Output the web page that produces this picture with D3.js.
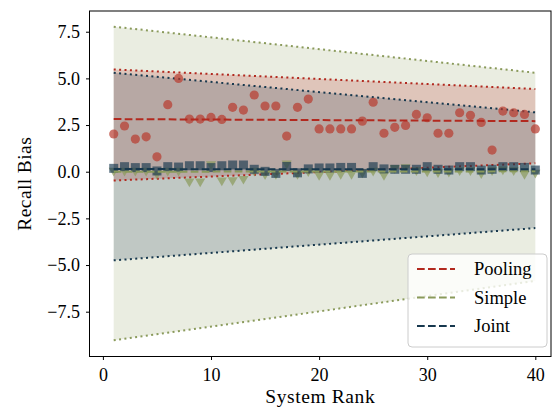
<!DOCTYPE html>
<html>
<head>
<meta charset="utf-8">
<script src="https://cdn.jsdelivr.net/npm/d3@7"></script>
<style>
  body { margin: 0; background: #fff; }
  svg { display: block; font-family: "Liberation Serif", "DejaVu Serif", serif; }
</style>
</head>
<body>
<div id="chart"></div>
<script>
// system ranks (x)
var ranks = [1, 2, 3, 4, 5, 6, 7, 8, 9, 10, 11, 12, 13, 14, 15, 16, 17, 18, 19, 20,
             21, 22, 23, 24, 25, 26, 27, 28, 29, 30, 31, 32, 33, 34, 35, 36, 37, 38, 39, 40];

// recall bias per system
var pooling = [2.02, 2.45, 1.75, 1.87, 0.80, 3.59, 5.00, 2.82, 2.82, 2.91,
               2.80, 3.45, 3.30, 4.11, 3.52, 3.52, 1.91, 3.45, 3.89, 2.29,
               2.29, 2.29, 2.29, 2.71, 3.72, 2.06, 2.38, 2.48, 3.07, 2.89,
               2.06, 2.06, 3.16, 3.02, 2.64, 1.16, 3.25, 3.16, 3.07, 2.29];
var simple = [0.05, 0.05, 0.05, 0.05, -0.10, 0.05, 0.05, -0.52, -0.52, 0.40,
              -0.47, -0.45, -0.38, 0.05, -0.13, -0.12, 0.45, -0.12, 0.03, -0.17,
              -0.17, -0.12, -0.12, -0.04, 0.05, -0.17, 0.20, 0.25, 0.08, 0.02,
              -0.02, 0.00, 0.08, 0.08, -0.08, 0.08, 0.12, 0.08, -0.12, -0.05];
var joint = [0.18, 0.27, 0.22, 0.22, 0.04, 0.27, 0.25, 0.32, 0.32, 0.22,
             0.32, 0.36, 0.36, 0.13, 0.02, -0.09, 0.28, -0.06, 0.15, 0.20,
             0.20, 0.23, 0.23, -0.09, 0.27, 0.15, 0.13, 0.13, 0.13, 0.27,
             0.13, 0.09, 0.27, 0.27, 0.09, 0.13, 0.27, 0.27, 0.23, 0.09];

// fitted lines and bands, value at first and last rank
var fitRanks = [1, 40];
var poolingFit = [2.82, 2.71], poolingUpper = [5.48, 4.43], poolingLower = [-0.47, 0.45];
var simpleFit = [0.00, 0.02], simpleUpper = [7.77, 5.30], simpleLower = [-9.03, -5.85];
var jointFit = [0.14, 0.13], jointUpper = [5.30, 3.18], jointLower = [-4.75, -3.02];

var methods = ["Pooling", "Simple", "Joint"];
var xTicks = [0, 10, 20, 30, 40];
var yTicks = [-7.5, -5.0, -2.5, 0.0, 2.5, 5.0, 7.5];

var colors = { Pooling: "#b2291f", Simple: "#8a9a5b", Joint: "#17384e" };

var width = 553, height = 408;
var margin = { top: 11, right: 2, bottom: 51.5, left: 89.5 };

var svg = d3.select("#chart").append("svg")
  .attr("width", width)
  .attr("height", height);

var x = d3.scaleLinear().domain([-1.24, 41.45]).range([margin.left, width - margin.right]);
var y = d3.scaleLinear().domain([-9.9, 8.61]).range([height - margin.bottom, margin.top]);

var series = [
  { name: "Simple", pts: simple, fit: simpleFit, up: simpleUpper, lo: simpleLower },
  { name: "Pooling", pts: pooling, fit: poolingFit, up: poolingUpper, lo: poolingLower },
  { name: "Joint", pts: joint, fit: jointFit, up: jointUpper, lo: jointLower }
];

var area = d3.area()
  .x(function(d) { return x(d.r); })
  .y0(function(d) { return y(d.lo); })
  .y1(function(d) { return y(d.up); });
var line = d3.line()
  .x(function(d) { return x(d[0]); })
  .y(function(d) { return y(d[1]); });

// bands
series.forEach(function(s) {
  var band = fitRanks.map(function(r, i) { return { r: r, lo: s.lo[i], up: s.up[i] }; });
  svg.append("path")
    .attr("d", area(band))
    .attr("fill", colors[s.name])
    .attr("fill-opacity", s.name == "Simple" ? 0.18 : 0.2);
});

// dotted band edges
series.forEach(function(s) {
  [s.up, s.lo].forEach(function(edge) {
    svg.append("path")
      .attr("d", line(fitRanks.map(function(r, i) { return [r, edge[i]]; })))
      .attr("fill", "none")
      .attr("stroke", colors[s.name])
      .attr("stroke-width", 2)
      .attr("stroke-dasharray", "2,3.4");
  });
});

// markers
var tri = d3.symbol().type(d3.symbolTriangle).size(44);
svg.append("g").selectAll("path")
  .data(ranks)
  .enter().append("path")
  .attr("d", tri)
  .attr("transform", function(d, i) { return "translate(" + x(d) + "," + y(simple[i]) + ") rotate(180)"; })
  .attr("fill", colors.Simple)
  .attr("fill-opacity", 0.7);

svg.append("g").selectAll("rect")
  .data(ranks)
  .enter().append("rect")
  .attr("x", function(d) { return x(d) - 4.5; })
  .attr("y", function(d, i) { return y(joint[i]) - 4.5; })
  .attr("width", 9)
  .attr("height", 9)
  .attr("fill", colors.Joint)
  .attr("fill-opacity", 0.65);

svg.append("g").selectAll("circle")
  .data(ranks)
  .enter().append("circle")
  .attr("cx", function(d) { return x(d); })
  .attr("cy", function(d, i) { return y(pooling[i]); })
  .attr("r", 4.6)
  .attr("fill", "#b83a2e")
  .attr("fill-opacity", 0.7);

// dashed fit lines
series.forEach(function(s) {
  svg.append("path")
    .attr("d", line(fitRanks.map(function(r, i) { return [r, s.fit[i]]; })))
    .attr("fill", "none")
    .attr("stroke", colors[s.name])
    .attr("stroke-width", 2)
    .attr("stroke-dasharray", "7.7,3.3");
});

// axes
var xAxis = svg.append("g")
  .attr("transform", "translate(0," + (height - margin.bottom) + ")")
  .call(d3.axisBottom(x).tickValues(xTicks).tickSize(3.5).tickPadding(8));
var yAxis = svg.append("g")
  .attr("transform", "translate(" + margin.left + ",0)")
  .call(d3.axisLeft(y).tickValues(yTicks).tickSize(3.5).tickPadding(6)
    .tickFormat(function(d) { return d3.format(".1f")(d).replace("-", "\u2212"); }));
[xAxis, yAxis].forEach(function(a) {
  a.select(".domain").remove();
  a.selectAll("text").attr("font-size", 18).attr("font-family", "Liberation Serif").attr("fill", "#000");
  a.selectAll("line").attr("stroke", "#000");
});

// frame
svg.append("rect")
  .attr("x", margin.left)
  .attr("y", margin.top)
  .attr("width", width - margin.left - margin.right)
  .attr("height", height - margin.top - margin.bottom)
  .attr("fill", "none")
  .attr("stroke", "#000")
  .attr("stroke-width", 1);

// axis titles
svg.append("text")
  .attr("x", (margin.left + width - margin.right) / 2)
  .attr("y", 402.5)
  .attr("text-anchor", "middle")
  .attr("font-size", 19.5)
  .attr("letter-spacing", 0.6)
  .text("System Rank");
svg.append("text")
  .attr("transform", "translate(31," + ((margin.top + height - margin.bottom) / 2) + ") rotate(-90)")
  .attr("text-anchor", "middle")
  .attr("font-size", 19.5)
  .attr("letter-spacing", 0.4)
  .text("Recall Bias");

// legend
var legend = svg.append("g");
legend.append("rect")
  .attr("x", 408).attr("y", 254)
  .attr("width", 139).attr("height", 93)
  .attr("rx", 4)
  .attr("fill", "#fff").attr("fill-opacity", 0.8)
  .attr("stroke", "#ccc");
methods.forEach(function(m, i) {
  var ly = 269 + i * 28.5;
  legend.append("line")
    .attr("x1", 417).attr("x2", 455)
    .attr("y1", ly).attr("y2", ly)
    .attr("stroke", colors[m])
    .attr("stroke-width", 2)
    .attr("stroke-dasharray", "7.7,3.3");
  legend.append("text")
    .attr("x", 474).attr("y", ly + 6)
    .attr("font-size", 18.5)
    .text(m);
});
</script>
</body>
</html>
